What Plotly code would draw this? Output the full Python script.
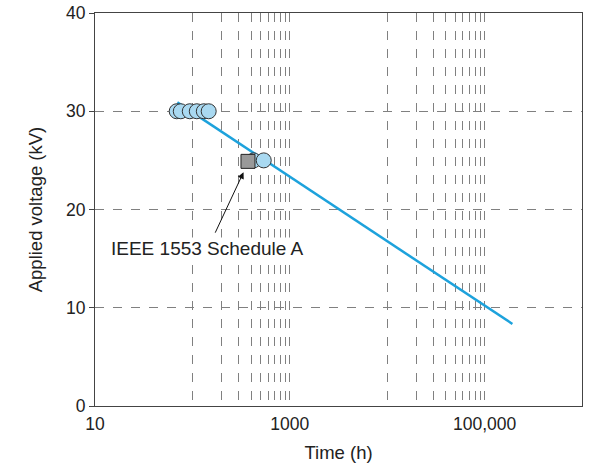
import plotly.graph_objects as go
import math

# Data
fit_time = [70, 193000]
fit_voltage = [30.9, 8.35]
circle_time = [69, 76, 94, 111, 131, 147, 425, 540]
circle_voltage = [30, 30, 30, 30, 30, 30, 25, 25]
square_time = [372]
square_voltage = [24.9]
x_tick_vals = [10, 100, 200, 300, 400, 500, 600, 700, 800, 900, 1000,
               10000, 20000, 30000, 40000, 50000, 60000, 70000, 80000, 90000, 100000]
x_tick_text = ["10", "", "", "", "", "", "", "", "", "", "1000",
               "", "", "", "", "", "", "", "", "", "100,000"]
y_tick_vals = [0, 10, 20, 30, 40]
annot_text = "IEEE 1553 Schedule A"

FONT = "Liberation Sans, Arial, Helvetica, sans-serif"
TXT = "#222222"

fig = go.Figure()
fig.add_trace(go.Scatter(x=fit_time, y=fit_voltage, mode="lines",
                         line=dict(color="#1da2dc", width=2.5), hoverinfo="skip"))
fig.add_trace(go.Scatter(x=circle_time, y=circle_voltage, mode="markers",
                         marker=dict(symbol="circle", size=15, color="#a9d9f1",
                                     line=dict(color="#333333", width=1))))
fig.add_trace(go.Scatter(x=square_time, y=square_voltage, mode="markers",
                         marker=dict(symbol="square", size=14, color="#999999",
                                     line=dict(color="#222222", width=1))))

# arrow (head at data point near square) and label
fig.add_annotation(x=math.log10(335), y=23.8, xref="x", yref="y", text="",
                   showarrow=True, arrowhead=2, arrowsize=1.3, arrowwidth=1,
                   arrowcolor="#111111", ax=-29, ay=62)
fig.add_annotation(x=math.log10(144), y=16.08, xref="x", yref="y", text=annot_text,
                   showarrow=False, bgcolor="white", borderpad=0,
                   font=dict(family=FONT, size=19, color=TXT))

fig.update_layout(
    width=596, height=468,
    margin=dict(l=95, r=14, t=13, b=62),
    paper_bgcolor="white", plot_bgcolor="white",
    showlegend=False,
    font=dict(family=FONT, size=17.5, color=TXT),
)
fig.update_xaxes(type="log", range=[1, 6], tickmode="array",
                 tickvals=x_tick_vals, ticktext=x_tick_text,
                 showgrid=True, gridcolor="#808080", griddash="dash", gridwidth=1,
                 showline=True, linecolor="#444444", linewidth=1, mirror=True,
                 ticks="outside", ticklen=2, tickcolor="rgba(0,0,0,0)",
                 zeroline=False, automargin=False, ticklabeloverflow="allow",
                 title=dict(text="Time (h)", font=dict(size=18.5), standoff=13),
                 tickfont=dict(size=17.5))
fig.update_yaxes(range=[0, 40], tickmode="array", tickvals=y_tick_vals,
                 showgrid=True, gridcolor="#808080", griddash="dash", gridwidth=1,
                 showline=True, linecolor="#444444", linewidth=1, mirror=True,
                 ticks="outside", ticklen=5, tickcolor="#444444", zeroline=False,
                 automargin=False, ticklabeloverflow="allow",
                 title=dict(text="Applied voltage (kV)", font=dict(size=18.5), standoff=18),
                 tickfont=dict(size=17.5))

fig.write_html("out.html", config={"displayModeBar": False},
               post_script="document.body.style.margin='0';")
